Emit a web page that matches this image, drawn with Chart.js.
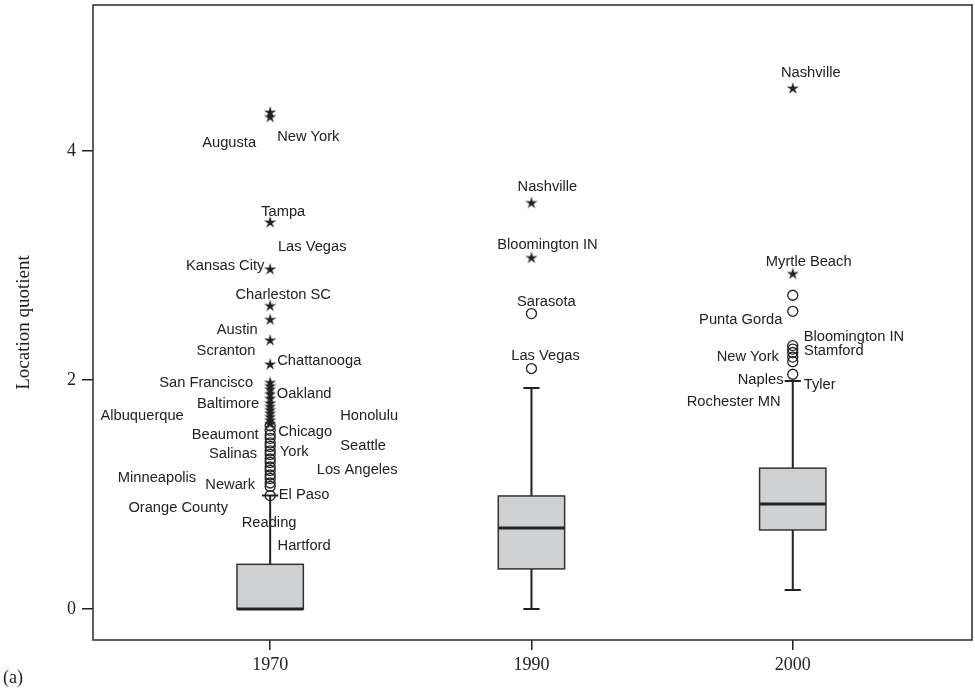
<!DOCTYPE html>
<html>
<head>
<meta charset="utf-8">
<script src="https://cdn.jsdelivr.net/npm/chart.js@4.4.0/dist/chart.umd.min.js"></script>
<style>
  html, body { margin: 0; padding: 0; background: #fff; }
  #wrap { width: 975px; height: 692px; }
</style>
</head>
<body>
<div id="wrap"><canvas id="c" width="975" height="692"></canvas></div>
<script>
// Years shown on the x axis and their positions
const years = ['1970', '1990', '2000'];
const groupPos = [1, 2, 3];

// Box-plot summary per year
const q1 = [0, 0.35, 0.69];
const medians = [0, 0.707, 0.917];
const q3 = [0.39, 0.987, 1.23];
const whiskerLow = [0, 0, 0.166];
const whiskerHigh = [0.99, 1.93, 1.99];

// Outliers: circles (beyond 1.5 IQR) and stars (extreme)
const mild1970 = [1.60, 1.56, 1.52, 1.49, 1.45, 1.42, 1.38, 1.35, 1.31, 1.28, 1.24, 1.21, 1.17, 1.14, 1.10, 1.07, 0.99];
const extreme1970 = [4.34, 4.30, 3.38, 2.97, 2.65, 2.53, 2.35, 2.14, 1.98, 1.95, 1.92, 1.88, 1.84, 1.80, 1.77, 1.74, 1.71, 1.68, 1.65, 1.62];
const mild1990 = [2.58, 2.10];
const extreme1990 = [3.55, 3.07];
const mild2000 = [2.74, 2.60, 2.30, 2.27, 2.24, 2.20, 2.16, 2.05];
const extreme2000 = [4.55, 2.93];

// Y axis ticks
const yTicks = [0, 2, 4];

// City name annotations: [text, x (axis units), y (value units)]
const cityLabels1970 = [
  ['Augusta', 0.843, 4.07], ['New York', 1.146, 4.12], ['Tampa', 1.050, 3.47],
  ['Las Vegas', 1.161, 3.16], ['Kansas City', 0.828, 3.00], ['Charleston SC', 1.050, 2.74],
  ['Austin', 0.874, 2.44], ['Scranton', 0.831, 2.25], ['Chattanooga', 1.188, 2.17],
  ['San Francisco', 0.755, 1.97], ['Oakland', 1.130, 1.88], ['Baltimore', 0.839, 1.79],
  ['Albuquerque', 0.510, 1.69], ['Honolulu', 1.379, 1.69], ['Chicago', 1.134, 1.55],
  ['Beaumont', 0.828, 1.52], ['Seattle', 1.356, 1.42], ['Salinas', 0.858, 1.35],
  ['York', 1.092, 1.37], ['Los Angeles', 1.333, 1.21], ['Minneapolis', 0.567, 1.14],
  ['Newark', 0.847, 1.08], ['El Paso', 1.130, 1.00], ['Orange County', 0.648, 0.88],
  ['Reading', 0.996, 0.75], ['Hartford', 1.130, 0.55]
];
const cityLabels1990 = [
  ['Nashville', 2.061, 3.69], ['Bloomington IN', 2.061, 3.18],
  ['Sarasota', 2.057, 2.68], ['Las Vegas', 2.054, 2.21]
];
const cityLabels2000 = [
  ['Nashville', 3.069, 4.68], ['Myrtle Beach', 3.061, 3.03], ['Punta Gorda', 2.801, 2.52],
  ['Bloomington IN', 3.234, 2.38], ['Stamford', 3.157, 2.25], ['New York', 2.828, 2.20],
  ['Naples', 2.877, 2.00], ['Tyler', 3.103, 1.96], ['Rochester MN', 2.774, 1.81]
];

const INK = '#222';

// small five-point star used for extreme outliers
function makeStar() {
  const c = document.createElement('canvas');
  c.width = 14; c.height = 14;
  const g = c.getContext('2d');
  g.fillStyle = INK;
  g.beginPath();
  for (let k = 0; k < 10; k++) {
    const r = k % 2 === 0 ? 6.5 : 2.3;
    const a = -Math.PI / 2 + k * Math.PI / 5;
    const px = 7 + r * Math.cos(a), py = 7.5 + r * Math.sin(a);
    if (k === 0) g.moveTo(px, py); else g.lineTo(px, py);
  }
  g.closePath();
  g.fill();
  return c;
}
const starImg = makeStar();

function pts(pos, arr) { return arr.map(v => ({ x: pos, y: v })); }

const circleStyle = {
  pointStyle: 'circle', pointRadius: 5, borderWidth: 1.3,
  borderColor: INK, backgroundColor: 'rgba(0,0,0,0)', showLine: false
};
const starStyle = { pointStyle: starImg, pointRadius: 6, showLine: false };

function noPad(s) { s.paddingTop = 0; s.paddingBottom = 0; s.paddingLeft = 0; s.paddingRight = 0; }

const boxPlugin = {
  id: 'boxWhisker',
  beforeDatasetsDraw(chart) {
    const { ctx, scales: { x, y } } = chart;
    ctx.save();
    groupPos.forEach((pos, i) => {
      const xc = x.getPixelForValue(pos);
      const half = x.getPixelForValue(pos + 0.127) - xc;
      const cap = x.getPixelForValue(pos + 0.031) - xc;
      const yq1 = y.getPixelForValue(q1[i]);
      const yq3 = y.getPixelForValue(q3[i]);
      const yMed = y.getPixelForValue(medians[i]);
      const yHi = y.getPixelForValue(whiskerHigh[i]);
      const yLo = y.getPixelForValue(whiskerLow[i]);
      ctx.strokeStyle = INK;
      ctx.lineWidth = 2;
      ctx.beginPath();
      ctx.moveTo(xc, yq3); ctx.lineTo(xc, yHi);
      ctx.moveTo(xc - cap, yHi); ctx.lineTo(xc + cap, yHi);
      if (whiskerLow[i] < q1[i]) {
        ctx.moveTo(xc, yq1); ctx.lineTo(xc, yLo);
        ctx.moveTo(xc - cap, yLo); ctx.lineTo(xc + cap, yLo);
      }
      ctx.stroke();
      ctx.fillStyle = '#cfd0d2';
      ctx.fillRect(xc - half, yq3, 2 * half, yq1 - yq3);
      ctx.strokeStyle = '#333';
      ctx.lineWidth = 1.5;
      ctx.strokeRect(xc - half, yq3, 2 * half, yq1 - yq3);
      ctx.strokeStyle = INK;
      ctx.lineWidth = 3;
      ctx.beginPath();
      ctx.moveTo(xc - half, yMed); ctx.lineTo(xc + half, yMed);
      ctx.stroke();
    });
    ctx.restore();
  },
  afterDatasetsDraw(chart) {
    const { ctx, chartArea: a, scales: { x, y } } = chart;
    ctx.save();
    ctx.font = '14.7px "Liberation Sans", Arial, sans-serif';
    ctx.fillStyle = INK;
    ctx.textAlign = 'center';
    ctx.textBaseline = 'middle';
    [...cityLabels1970, ...cityLabels1990, ...cityLabels2000].forEach(([t, lx, ly]) => {
      ctx.fillText(t, x.getPixelForValue(lx), y.getPixelForValue(ly));
    });
    ctx.strokeStyle = '#2a2a2a';
    ctx.lineWidth = 1.5;
    ctx.strokeRect(a.left, a.top, a.right - a.left, a.bottom - a.top);
    ctx.restore();
  },
  afterDraw(chart) {
    const { ctx } = chart;
    ctx.save();
    ctx.font = '18px "Liberation Serif", "Times New Roman", serif';
    ctx.fillStyle = INK;
    ctx.textAlign = 'left';
    ctx.textBaseline = 'middle';
    ctx.fillText('(a)', 3, 678);
    ctx.restore();
  }
};

new Chart(document.getElementById('c'), {
  type: 'scatter',
  data: {
    datasets: [
      { data: pts(groupPos[0], mild1970), ...circleStyle },
      { data: pts(groupPos[0], extreme1970), ...starStyle },
      { data: pts(groupPos[1], mild1990), ...circleStyle },
      { data: pts(groupPos[1], extreme1990), ...starStyle },
      { data: pts(groupPos[2], mild2000), ...circleStyle },
      { data: pts(groupPos[2], extreme2000), ...starStyle }
    ]
  },
  options: {
    responsive: false,
    animation: false,
    events: [],
    layout: { autoPadding: false, padding: { top: 5, right: 3, left: 0, bottom: 0 } },
    plugins: { legend: { display: false }, tooltip: { enabled: false } },
    scales: {
      x: {
        type: 'linear',
        min: 0.322,
        max: 3.686,
        afterBuildTicks(s) { s.ticks = groupPos.map(v => ({ value: v })); },
        afterFit(s) { s.height = 52; noPad(s); },
        ticks: {
          autoSkip: false,
          maxRotation: 0,
          padding: 4,
          color: INK,
          font: { family: '"Liberation Serif", "Times New Roman", serif', size: 18 },
          callback: v => years[groupPos.indexOf(v)]
        },
        grid: { drawOnChartArea: false, drawTicks: true, tickLength: 10, color: INK, lineWidth: 1.5 },
        border: { display: false }
      },
      y: {
        type: 'linear',
        min: -0.271,
        max: 5.275,
        afterBuildTicks(s) { s.ticks = yTicks.map(v => ({ value: v })); },
        afterFit(s) { s.width = 93; noPad(s); },
        ticks: {
          padding: 6,
          color: INK,
          font: { family: '"Liberation Serif", "Times New Roman", serif', size: 18 },
          callback: v => String(v)
        },
        grid: { drawOnChartArea: false, drawTicks: true, tickLength: 11, color: INK, lineWidth: 1.5 },
        border: { display: false },
        title: {
          display: true,
          text: 'Location quotient',
          color: INK,
          padding: { top: 13, bottom: 0 },
          font: { family: '"Liberation Serif", "Times New Roman", serif', size: 19 }
        }
      }
    }
  },
  plugins: [boxPlugin]
});
</script>
</body>
</html>
